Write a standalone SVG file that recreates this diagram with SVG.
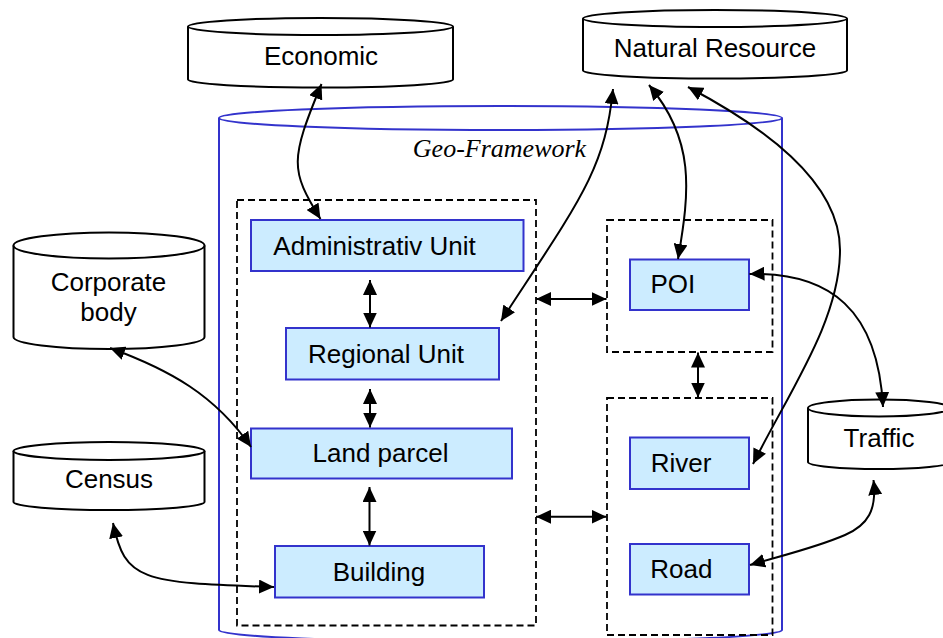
<svg xmlns="http://www.w3.org/2000/svg" width="943" height="638" viewBox="0 0 943 638">
<style>
.cyl{fill:#fff;stroke:#000;stroke-width:2}
.frame{fill:#fff;stroke:#3333cc;stroke-width:2}
.box{fill:#ccecff;stroke:#3333cc;stroke-width:2}
.dash{fill:none;stroke:#000;stroke-width:1.8;stroke-dasharray:7 4}
.conn{fill:none;stroke:#000;stroke-width:2;marker-start:url(#ah);marker-end:url(#ah)}
text{font-family:"Liberation Sans",Arial,sans-serif;font-size:26px;fill:#000;text-anchor:middle}
.geo{font-family:"Liberation Serif","Times New Roman",serif;font-style:italic}
</style>
<defs>
<marker id="ah" viewBox="0 0 15 14" refX="15" refY="7" markerWidth="15" markerHeight="14" markerUnits="userSpaceOnUse" orient="auto-start-reverse">
<path d="M0,0 L15,7 L0,14 Z" fill="#000"/>
</marker>
</defs>
<rect width="943" height="638" fill="#fff"/>

<g id="geo-framework">
<path class="frame" d="M219,118 V630 A281.5,12 0 0 0 782,630 V118"/>
<ellipse class="frame" cx="500.5" cy="118" rx="281.5" ry="12"/>
<text class="geo" x="499.5" y="157">Geo-Framework</text>
</g>

<g id="group-left"><rect class="dash" x="237" y="200" width="299" height="425.5"/></g>
<g id="group-poi"><rect class="dash" x="607" y="220" width="165.5" height="132"/></g>
<g id="group-river-road"><rect class="dash" x="607" y="398" width="165.5" height="237"/></g>

<g id="economic">
<path class="cyl" d="M188,26.5 V79.5 A132.5,8 0 0 0 453,79.5 V26.5"/>
<ellipse class="cyl" cx="320.5" cy="26.5" rx="132.5" ry="8.5"/>
<text x="321" y="65">Economic</text>
</g>
<g id="natural-resource">
<path class="cyl" d="M583,18.5 V70.5 A132,8 0 0 0 847,70.5 V18.5"/>
<ellipse class="cyl" cx="715" cy="18.5" rx="132" ry="8.5"/>
<text x="715" y="57">Natural Resource</text>
</g>
<g id="corporate-body">
<path class="cyl" d="M13.5,245.5 V337 A95.5,12 0 0 0 204.5,337 V245.5"/>
<ellipse class="cyl" cx="109" cy="245.5" rx="95.5" ry="13"/>
<text x="108.5" y="291">Corporate</text>
<text x="108.5" y="321">body</text>
</g>
<g id="census">
<path class="cyl" d="M13.5,451 V502 A95.5,8 0 0 0 204.5,502 V451"/>
<ellipse class="cyl" cx="109" cy="451" rx="95.5" ry="9"/>
<text x="109" y="488">Census</text>
</g>
<g id="traffic">
<path class="cyl" d="M808,408 V462 A71,7 0 0 0 950,462 V408"/>
<ellipse class="cyl" cx="879" cy="408" rx="71" ry="8.5"/>
<text x="879" y="447">Traffic</text>
</g>

<g id="administrativ-unit"><rect class="box" x="251" y="220" width="272.5" height="51"/><text x="374.5" y="255">Administrativ Unit</text></g>
<g id="regional-unit"><rect class="box" x="286" y="328" width="213" height="51.5"/><text x="386" y="362.7">Regional Unit</text></g>
<g id="land-parcel"><rect class="box" x="251" y="428.5" width="261" height="50"/><text x="380.5" y="461.7">Land parcel</text></g>
<g id="building"><rect class="box" x="275" y="546" width="209" height="51.5"/><text x="379" y="580.7">Building</text></g>
<g id="poi"><rect class="box" x="630" y="259.5" width="119" height="50.5"/><text x="672.8" y="293.3">POI</text></g>
<g id="river"><rect class="box" x="630" y="437.5" width="119" height="51.5"/><text x="681" y="471.7">River</text></g>
<g id="road"><rect class="box" x="630" y="544" width="119" height="50.5"/><text x="681.3" y="577.7">Road</text></g>

<g id="connectors">
<path class="conn" d="M321.5,84 C290,160 290,170 320.5,219"/>
<path class="conn" d="M370,280 V327.5"/>
<path class="conn" d="M370,389 V427.5"/>
<path class="conn" d="M369.5,487 V545.5"/>
<path class="conn" d="M536,299 H606.5"/>
<path class="conn" d="M536,516.7 H606.5"/>
<path class="conn" d="M698,352.5 V397.5"/>
<path class="conn" d="M613,89 C605,170 580,200 501,321"/>
<path class="conn" d="M649,85 C695,140 690,190 678,259"/>
<path class="conn" d="M688,87 C760,125 840,180 840,250 C840,320 790,390 753,464"/>
<path class="conn" d="M749.5,274 C830,272 878,310 883,407"/>
<path class="conn" d="M873.5,480 C877,510 868,525 845,535 C815,548 780,556 750,565"/>
<path class="conn" d="M110,348 C170,370 215,395 251,447"/>
<path class="conn" d="M113,523 C125,580 140,583 274,587"/>
</g>
</svg>
